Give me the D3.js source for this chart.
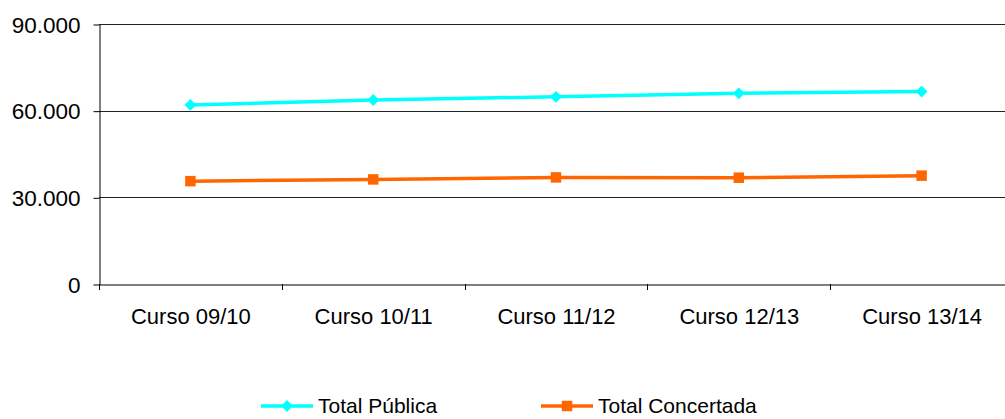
<!DOCTYPE html>
<html><head><meta charset="utf-8">
<script src="https://cdn.jsdelivr.net/npm/d3@7"></script>
<style>body{margin:0;background:#fff}svg{display:block;font-family:"Liberation Sans",Arial,sans-serif}</style>
</head><body><svg id="c" width="1005" height="419"></svg>
<script>
const categories = ["Curso 09/10","Curso 10/11","Curso 11/12","Curso 12/13","Curso 13/14"];
const publica = [62000, 63700, 64800, 66000, 66600];
const concertada = [35600, 36200, 36900, 36800, 37500];
const yTicks = [0, 30000, 60000, 90000];
const seriesNames = ["Total Pública","Total Concertada"];
const colors = ["#00FFFF","#FF6600"];

const svg = d3.select("#c");
const x0 = 99, x1 = 1013, yTop = 24, yBot = 284;
const x = d3.scaleBand().domain(categories).range([x0, x1]);
const y = d3.scaleLinear().domain([0, 90000]).range([yBot, yTop]);
const fmt = v => v === 0 ? "0" : d3.format(",")(v).replace(/,/g, ".");
const FF = "Liberation Sans, Arial, sans-serif";

// gridlines
svg.append("g").selectAll("line").data(yTicks.filter(d => d > 0)).join("line")
  .attr("x1", x0).attr("x2", x1).attr("y1", d => Math.round(y(d)) + 0.5).attr("y2", d => Math.round(y(d)) + 0.5)
  .attr("stroke", "#222").attr("stroke-width", 1);

// y axis
const ya = svg.append("g").attr("transform", `translate(${x0 + 0.5},0.5)`)
  .call(d3.axisLeft(y).tickValues(yTicks).tickFormat(fmt).tickSize(6).tickSizeOuter(0));
ya.select(".domain").attr("stroke", "#000");
ya.selectAll(".tick line").attr("stroke", "#000");
ya.selectAll(".tick text").attr("font-size", 22.5).attr("font-family", FF).attr("fill", "#000").attr("x", -19).attr("dy", "0.34em");

// x axis
const xa = svg.append("g").attr("transform", `translate(0.5,${yBot + 0.5})`)
  .call(d3.axisBottom(x).tickSize(0).tickSizeOuter(0));
xa.select(".domain").attr("stroke", "#000");
xa.selectAll(".tick text").attr("font-size", 22).attr("font-family", FF).attr("fill", "#000").attr("y", 24);
// tick marks between categories
svg.append("g").selectAll("line").data(categories).join("line")
  .attr("x1", d => Math.round(x(d)) + 0.5).attr("x2", d => Math.round(x(d)) + 0.5)
  .attr("y1", yBot).attr("y2", yBot + 6).attr("stroke", "#000");

const cx = d => x(d) + x.bandwidth() / 2;
const line = d3.line().x((d, i) => cx(categories[i])).y(d => y(d));
const diamond = d3.symbol().type(d3.symbolSquare).size(70);
const square = d3.symbol().type(d3.symbolSquare).size(110);
const rot = [45, 0];

[[publica, 0, diamond], [concertada, 1, square]].forEach(([data, k, sym]) => {
  svg.append("path").datum(data).attr("d", line).attr("fill", "none")
    .attr("stroke", colors[k]).attr("stroke-width", 3.5);
  svg.append("g").selectAll("path").data(data).join("path")
    .attr("d", sym).attr("fill", colors[k])
    .attr("transform", (d, i) => `translate(${cx(categories[i])},${y(d)}) rotate(${rot[k]})`);
});

// legend
const legX = [261, 541];
const symArr = [diamond, square];
seriesNames.forEach((n, k) => {
  const g = svg.append("g").attr("transform", `translate(${legX[k]},406)`);
  g.append("line").attr("x1", 0).attr("x2", 52).attr("stroke", colors[k]).attr("stroke-width", 3.5);
  g.append("path").attr("d", symArr[k]).attr("fill", colors[k]).attr("transform", `translate(26,0) rotate(${rot[k]})`);
  g.append("text").attr("x", 57).attr("y", 7).attr("font-size", 21).attr("fill", "#000").text(n);
});
</script></body></html>
